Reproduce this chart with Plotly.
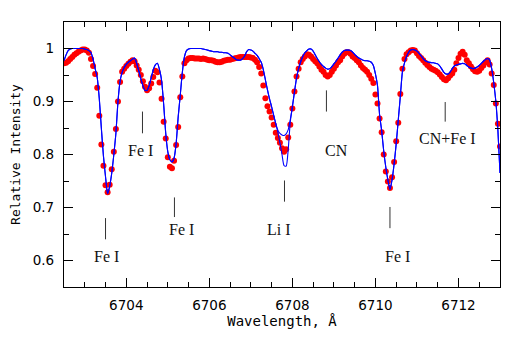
import plotly.graph_objects as go

# Wavelength grid of the observed spectrum (Angstrom)
wavelength = [
    6702.50, 6702.55, 6702.60, 6702.65, 6702.70, 6702.75, 6702.80, 6702.85, 6702.90, 6702.95,
    6703.00, 6703.05, 6703.10, 6703.15, 6703.20, 6703.25, 6703.30, 6703.35, 6703.40, 6703.45,
    6703.50, 6703.55, 6703.60, 6703.65, 6703.70, 6703.75, 6703.80, 6703.85, 6703.90, 6703.95,
    6704.00, 6704.05, 6704.10, 6704.15, 6704.20, 6704.25, 6704.30, 6704.35, 6704.40, 6704.45,
    6704.50, 6704.55, 6704.60, 6704.65, 6704.70, 6704.75, 6704.80, 6704.85, 6704.90, 6704.95,
    6705.00, 6705.05, 6705.10, 6705.15, 6705.20, 6705.25, 6705.30, 6705.35, 6705.40, 6705.45,
    6705.50, 6705.55, 6705.60, 6705.65, 6705.70, 6705.75, 6705.80, 6705.85, 6705.90, 6705.95,
    6706.00, 6706.05, 6706.10, 6706.15, 6706.20, 6706.25, 6706.30, 6706.35, 6706.40, 6706.45,
    6706.50, 6706.55, 6706.60, 6706.65, 6706.70, 6706.75, 6706.80, 6706.85, 6706.90, 6706.95,
    6707.00, 6707.05, 6707.10, 6707.15, 6707.20, 6707.25, 6707.30, 6707.35, 6707.40, 6707.45,
    6707.50, 6707.55, 6707.60, 6707.65, 6707.70, 6707.75, 6707.80, 6707.85, 6707.90, 6707.95,
    6708.00, 6708.05, 6708.10, 6708.15, 6708.20, 6708.25, 6708.30, 6708.35, 6708.40, 6708.45,
    6708.50, 6708.55, 6708.60, 6708.65, 6708.70, 6708.75, 6708.80, 6708.85, 6708.90, 6708.95,
    6709.00, 6709.05, 6709.10, 6709.15, 6709.20, 6709.25, 6709.30, 6709.35, 6709.40, 6709.45,
    6709.50, 6709.55, 6709.60, 6709.65, 6709.70, 6709.75, 6709.80, 6709.85, 6709.90, 6709.95,
    6710.00, 6710.05, 6710.10, 6710.15, 6710.20, 6710.25, 6710.30, 6710.35, 6710.40, 6710.45,
    6710.50, 6710.55, 6710.60, 6710.65, 6710.70, 6710.75, 6710.80, 6710.85, 6710.90, 6710.95,
    6711.00, 6711.05, 6711.10, 6711.15, 6711.20, 6711.25, 6711.30, 6711.35, 6711.40, 6711.45,
    6711.50, 6711.55, 6711.60, 6711.65, 6711.70, 6711.75, 6711.80, 6711.85, 6711.90, 6711.95,
    6712.00, 6712.05, 6712.10, 6712.15, 6712.20, 6712.25, 6712.30, 6712.35, 6712.40, 6712.45,
    6712.50, 6712.55, 6712.60, 6712.65, 6712.70, 6712.75, 6712.80, 6712.85, 6712.90, 6712.95,
    6713.00,
]

# Observed spectrum (red dots)
observed = [
    0.972, 0.973, 0.976, 0.980, 0.984, 0.988, 0.991, 0.994, 0.996, 0.998,
    0.998, 0.996, 0.992, 0.980, 0.967, 0.952, 0.926, 0.873, 0.819, 0.779,
    0.742, 0.729, 0.743, 0.772, 0.805, 0.848, 0.900, 0.937, 0.956, 0.962,
    0.967, 0.971, 0.975, 0.978, 0.976, 0.968, 0.960, 0.950, 0.938, 0.928,
    0.921, 0.925, 0.934, 0.946, 0.958, 0.955, 0.936, 0.905, 0.862, 0.830,
    0.795, 0.777, 0.774, 0.788, 0.818, 0.852, 0.908, 0.947, 0.972, 0.978,
    0.981, 0.982, 0.982, 0.981, 0.981, 0.981, 0.980, 0.981, 0.980, 0.979,
    0.978, 0.978, 0.977, 0.975, 0.974, 0.974, 0.975, 0.977, 0.978, 0.979,
    0.979, 0.980, 0.981, 0.982, 0.983, 0.984, 0.984, 0.984, 0.984, 0.984,
    0.983, 0.982, 0.979, 0.974, 0.965, 0.953, 0.930, 0.906, 0.891, 0.881,
    0.870, 0.856, 0.841, 0.831, 0.822, 0.812, 0.805, 0.810, 0.832, 0.856,
    0.887, 0.919, 0.947, 0.962, 0.974, 0.980, 0.985, 0.989, 0.988, 0.985,
    0.980, 0.976, 0.972, 0.966, 0.960, 0.956, 0.950, 0.947, 0.950, 0.956,
    0.962, 0.968, 0.974, 0.978, 0.985, 0.990, 0.993, 0.993, 0.990, 0.985,
    0.982, 0.978, 0.974, 0.968, 0.963, 0.960, 0.956, 0.950, 0.943, 0.935,
    0.913, 0.896, 0.868, 0.842, 0.800, 0.768, 0.749, 0.737, 0.757, 0.786,
    0.825, 0.860, 0.914, 0.962, 0.980, 0.989, 0.993, 0.996, 0.997, 0.996,
    0.991, 0.986, 0.982, 0.978, 0.973, 0.969, 0.965, 0.962, 0.960, 0.958,
    0.955, 0.951, 0.946, 0.942, 0.940, 0.944, 0.949, 0.953, 0.960, 0.972,
    0.982, 0.990, 0.994, 0.988, 0.978, 0.972, 0.966, 0.961, 0.957, 0.956,
    0.958, 0.963, 0.968, 0.974, 0.978, 0.970, 0.953, 0.931, 0.896, 0.858,
    0.815,
]

# Synthetic spectrum, low lithium abundance (blue line)
synth_li_low = [
    0.977, 0.988, 0.996, 0.999, 1.000, 1.000, 1.000, 1.000, 1.000, 1.000,
    0.999, 0.998, 0.996, 0.992, 0.980, 0.962, 0.945, 0.905, 0.849, 0.797,
    0.758, 0.726, 0.740, 0.765, 0.800, 0.840, 0.900, 0.938, 0.955, 0.964,
    0.970, 0.974, 0.977, 0.980, 0.982, 0.972, 0.958, 0.943, 0.930, 0.921,
    0.921, 0.930, 0.945, 0.960, 0.969, 0.972, 0.960, 0.940, 0.895, 0.840,
    0.805, 0.790, 0.786, 0.793, 0.820, 0.871, 0.912, 0.955, 0.984, 0.996,
    0.999, 1.000, 1.000, 1.000, 1.000, 1.000, 1.000, 0.999, 0.998, 0.997,
    0.996, 0.995, 0.994, 0.994, 0.994, 0.993, 0.993, 0.992, 0.992, 0.991,
    0.988, 0.985, 0.982, 0.979, 0.978, 0.978, 0.981, 0.986, 0.994, 0.998,
    0.997, 0.995, 0.991, 0.987, 0.981, 0.974, 0.960, 0.941, 0.922, 0.905,
    0.890, 0.874, 0.858, 0.846, 0.840, 0.837, 0.836, 0.839, 0.847, 0.866,
    0.890, 0.918, 0.944, 0.962, 0.975, 0.985, 0.992, 0.996, 0.999, 0.999,
    0.995, 0.988, 0.981, 0.975, 0.970, 0.966, 0.963, 0.961, 0.962, 0.966,
    0.971, 0.976, 0.982, 0.988, 0.993, 0.996, 0.997, 0.997, 0.996, 0.993,
    0.989, 0.985, 0.982, 0.980, 0.978, 0.977, 0.977, 0.976, 0.974, 0.968,
    0.952, 0.930, 0.875, 0.845, 0.806, 0.776, 0.752, 0.734, 0.752, 0.782,
    0.820, 0.865, 0.910, 0.956, 0.973, 0.985, 0.993, 0.997, 0.998, 0.997,
    0.995, 0.991, 0.986, 0.981, 0.977, 0.975, 0.974, 0.973, 0.973, 0.972,
    0.971, 0.967, 0.961, 0.955, 0.952, 0.952, 0.956, 0.962, 0.967, 0.969,
    0.970, 0.971, 0.972, 0.971, 0.968, 0.965, 0.963, 0.962, 0.963, 0.965,
    0.968, 0.972, 0.976, 0.979, 0.981, 0.978, 0.962, 0.935, 0.900, 0.845,
    0.765,
]

# Synthetic spectrum, high lithium abundance: differs only in the Li I core
li_core_wave = [6707.65, 6707.70, 6707.75, 6707.80, 6707.85, 6707.90, 6707.95]
li_core_high = [0.842, 0.822, 0.800, 0.779, 0.778, 0.810, 0.862]

# Line identifications: (label, line position, marker y0, y1, text x, text y)
labels = [
    ("Fe I", 6703.50, 0.640, 0.680, 6703.52, 0.608),
    ("Fe I", 6704.39, 0.840, 0.881, 6704.35, 0.808),
    ("Fe I", 6705.16, 0.682, 0.719, 6705.34, 0.659),
    ("Li I", 6707.81, 0.711, 0.751, 6707.67, 0.659),
    ("CN", 6708.82, 0.881, 0.921, 6709.06, 0.808),
    ("Fe I", 6710.35, 0.661, 0.701, 6710.53, 0.608),
    ("CN+Fe I", 6711.68, 0.862, 0.899, 6711.74, 0.831),
]

synth_li_high = list(synth_li_low)
for w, f in zip(li_core_wave, li_core_high):
    synth_li_high[wavelength.index(w)] = f

fig = go.Figure()

fig.add_trace(go.Scatter(
    x=wavelength, y=observed, mode="markers",
    marker=dict(color="#ff0000", size=6, line=dict(width=0)),
    name="observed", showlegend=False
))
for synth in (synth_li_low, synth_li_high):
    fig.add_trace(go.Scatter(
        x=wavelength, y=synth, mode="lines",
        line=dict(color="#0000ff", width=1.1, shape="spline", smoothing=0.6),
        showlegend=False
    ))

# marcas y textos de identificación de líneas
for text, xl, y0, y1, xt, yt in labels:
    fig.add_shape(type="line", x0=xl, x1=xl, y0=y0, y1=y1, xref="x", yref="y",
                  line=dict(color="#333333", width=1))
    fig.add_annotation(x=xt, y=yt, text=text, showarrow=False, xref="x", yref="y",
                       font=dict(family="Liberation Serif", size=16, color="#111111"))

axis_common = dict(
    showline=True, linecolor="black", linewidth=1.2, mirror="ticks",
    ticks="inside", tickcolor="black", tickwidth=1.2, ticklen=9,
    showgrid=False, zeroline=False, automargin=False,
    tickfont=dict(family="DejaVu Sans", size=13.5, color="black"),
)

# la página añade ~8 px de margen al cuerpo, se compensa en los márgenes
fig.update_layout(
    width=518, height=337,
    margin=dict(l=56, r=26, t=14, b=58),
    paper_bgcolor="white", plot_bgcolor="white",
    xaxis=dict(
        range=[6702.5, 6713],
        tickvals=[6704, 6706, 6708, 6710, 6712],
        ticktext=["6704", "6706", "6708", "6710", "6712"],
        minor=dict(tick0=6702.5, dtick=0.5, ticks="inside", ticklen=5,
                   tickcolor="black", tickwidth=1.2),
        ticklabelstandoff=6,
        title=dict(text="Wavelength, Å", standoff=3,
                   font=dict(family="DejaVu Sans Mono", size=14, color="black")),
        **axis_common
    ),
    yaxis=dict(
        range=[0.55, 1.05],
        tickvals=[0.6, 0.7, 0.8, 0.9, 1.0],
        ticktext=["0.6", "0.7", "0.8", "0.9", "1"],
        minor=dict(tick0=0.55, dtick=0.05, ticks="inside", ticklen=5,
                   tickcolor="black", tickwidth=1.2),
        ticklabelstandoff=6,
        title=dict(text="Relative Intensity", standoff=9,
                   font=dict(family="DejaVu Sans Mono", size=13, color="black")),
        **axis_common
    ),
)

fig.write_html("out.html")
